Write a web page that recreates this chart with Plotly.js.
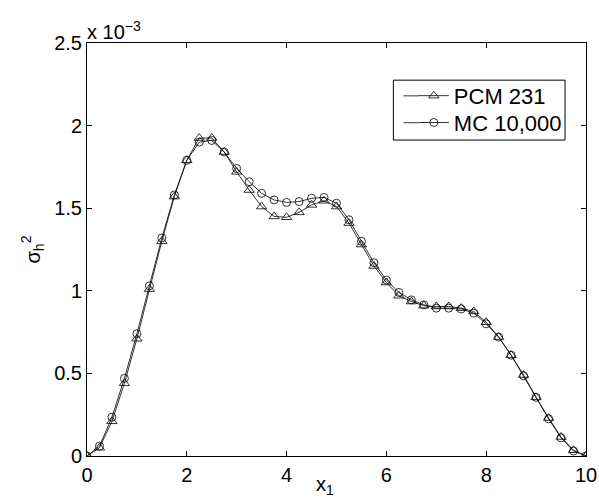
<!DOCTYPE html>
<html>
<head>
<meta charset="utf-8">
<script src="https://cdn.plot.ly/plotly-3.0.1.min.js"></script>
<style>
html,body{margin:0;padding:0;background:#fff;}
#chart{width:599px;height:497px;}
</style>
</head>
<body>
<div id="chart"></div>
<script>
// x positions
const xValues = [0, 0.25, 0.5, 0.75, 1, 1.25, 1.5, 1.75, 2, 2.25, 2.5, 2.75, 3, 3.25, 3.5, 3.75,
  4, 4.25, 4.5, 4.75, 5, 5.25, 5.5, 5.75, 6, 6.25, 6.5, 6.75, 7, 7.25, 7.5, 7.75,
  8, 8.25, 8.5, 8.75, 9, 9.25, 9.5, 9.75, 10];
// variance in units of 1e-3
const pcm231 = [0, 0.05, 0.21, 0.44, 0.71, 1.01, 1.30, 1.57, 1.79, 1.925, 1.925, 1.84, 1.72, 1.61, 1.51, 1.45,
  1.445, 1.475, 1.52, 1.545, 1.51, 1.41, 1.28, 1.15, 1.05, 0.97, 0.935, 0.91, 0.905, 0.905, 0.895, 0.875,
  0.81, 0.72, 0.61, 0.49, 0.355, 0.23, 0.115, 0.035, 0];
const mc10000 = [0, 0.06, 0.235, 0.47, 0.74, 1.03, 1.32, 1.58, 1.79, 1.90, 1.91, 1.84, 1.74, 1.66, 1.59, 1.55,
  1.535, 1.54, 1.56, 1.565, 1.53, 1.43, 1.30, 1.17, 1.065, 0.99, 0.945, 0.915, 0.895, 0.895, 0.89, 0.865,
  0.80, 0.72, 0.61, 0.485, 0.355, 0.225, 0.11, 0.03, 0];
const seriesNames = ['PCM 231', 'MC 10,000'];
const xTicks = [0, 2, 4, 6, 8, 10];
const yTicks = [0, 0.5, 1, 1.5, 2, 2.5];
const yTickText = ['0', '0.5', '1', '1.5', '2', '2.5'];

const FONT = 'Liberation Sans, Arial, Helvetica, sans-serif';

const traces = [
  {
    x: xValues, y: pcm231, name: seriesNames[0], type: 'scatter', mode: 'lines+markers',
    legend: 'legend',
    line: {color: '#000', width: 0.8},
    marker: {symbol: 'triangle-up-open', size: 9, color: '#000', line: {color: '#000', width: 0.8}}
  },
  {
    x: xValues, y: mc10000, name: seriesNames[1], type: 'scatter', mode: 'lines+markers',
    legend: 'legend2',
    line: {color: '#000', width: 0.8},
    marker: {symbol: 'circle-open', size: 8, color: '#000', line: {color: '#000', width: 0.8}}
  }
];

const axisCommon = {
  showline: true, linecolor: '#000', linewidth: 1, mirror: 'ticks',
  ticks: 'inside', ticklen: 5, tickwidth: 1, tickcolor: '#000',
  showgrid: false, zeroline: false,
  tickfont: {family: FONT, size: 20, color: '#000'}
};

const legendCommon = {
  xanchor: 'left', yanchor: 'middle',
  borderwidth: 0, bgcolor: 'rgba(0,0,0,0)',
  font: {family: FONT, size: 22, color: '#000'}
};

const layout = {
  width: 599, height: 497,
  margin: {l: 87, r: 13, t: 43, b: 41},
  paper_bgcolor: '#fff', plot_bgcolor: '#fff',
  font: {family: FONT, size: 20, color: '#000'},
  showlegend: true,
  legend: Object.assign({}, legendCommon, {x: 0.655, y: 0.872}),
  legend2: Object.assign({}, legendCommon, {x: 0.655, y: 0.807}),
  xaxis: Object.assign({}, axisCommon, {
    range: [0, 10], tickvals: xTicks, ticktext: xTicks.map(String),
    ticklabelstandoff: 1
  }),
  yaxis: Object.assign({}, axisCommon, {
    range: [0, 2.5], tickvals: yTicks, ticktext: yTickText,
    title: {text: 'σ<sub>h</sub><sup>2</sup>', font: {family: FONT, size: 20, color: '#000'}, standoff: 8}
  }),
  shapes: [
    {type: 'rect', xref: 'paper', yref: 'paper', x0: 0.614, x1: 0.958, y0: 0.765, y1: 0.910,
     line: {color: '#000', width: 1}, fillcolor: '#fff', layer: 'above'},
    {type: 'line', xref: 'paper', yref: 'paper', x0: 0.634, x1: 0.665, y0: 0.872, y1: 0.872,
     line: {color: '#000', width: 0.8}, layer: 'above'},
    {type: 'line', xref: 'paper', yref: 'paper', x0: 0.634, x1: 0.665, y0: 0.807, y1: 0.807,
     line: {color: '#000', width: 0.8}, layer: 'above'}
  ],
  annotations: [
    {xref: 'paper', yref: 'paper', x: 0, y: 1, xanchor: 'left', yanchor: 'bottom',
     text: 'x 10<sup>−3</sup>', showarrow: false,
     font: {family: FONT, size: 20, color: '#000'}, xshift: -2, yshift: -2},
    {xref: 'paper', yref: 'paper', x: 0.476, y: 0, xanchor: 'center', yanchor: 'top',
     text: 'x<sub>1</sub>', showarrow: false,
     font: {family: FONT, size: 20, color: '#000'}, yshift: -15}
  ]
};

Plotly.newPlot('chart', traces, layout, {displayModeBar: false, staticPlot: true});
</script>
</body>
</html>
